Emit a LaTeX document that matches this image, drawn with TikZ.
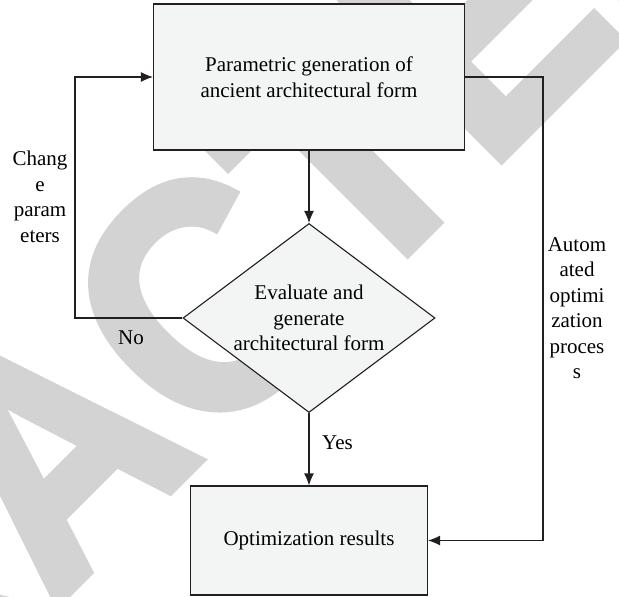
\documentclass[tikz,border=0pt]{standalone}
\usepackage{fontspec}
\setmainfont{Liberation Serif}
\newfontfamily\wmfont[FakeBold=3]{Liberation Sans Bold}
\usetikzlibrary{arrows.meta}
\usetikzlibrary{shapes.geometric}
\definecolor{boxfill}{RGB}{243,245,244}
\definecolor{wmgray}{RGB}{211,211,211}
\definecolor{inkline}{RGB}{35,31,32}

\begin{document}
\begin{tikzpicture}[x=1pt,y=-1pt,
        every node/.append style={font=\fontsize{21}{25.5}\selectfont},
        flow/.style={draw=inkline,line width=1.1pt,fill=boxfill,align=center,inner sep=0pt},
        arr/.style={draw=inkline,line width=1.1pt,-{Latex[length=12pt,width=10pt]}},
        lbl/.style={align=center,inner sep=0pt}]
    \useasboundingbox (0,0) rectangle (619,597);

    % Watermark
    \begin{scope}
        \clip (0,0) rectangle (619,597);
        \node [rotate=45,text=wmgray,inner sep=0pt,
            font=\wmfont\fontsize{325}{325}\selectfont] (wm) at (50,452)
            {\scalebox{0.92}[1]{RETRACTED}};
    \end{scope}

    % Blocks
    \node [flow,minimum width=311pt,minimum height=146pt] (gen) at (309,77)
        {Parametric generation of\\ancient architectural form};
    \node [flow,diamond,aspect=1.333,minimum width=252pt,minimum height=189pt] (eval) at (309,318)
        {Evaluate and\\generate\\architectural form};
    \node [flow,minimum width=237pt,minimum height=109pt] (res) at (309,540.5)
        {Optimization results};

    % Turning points
    \coordinate (backL) at (75,318);
    \coordinate (fwdR) at (543,77);

    % Arrows
    \draw [arr] (gen) -- (eval);
    \draw [arr] (eval) -- (res);
    \draw [arr] (eval.west) -- (backL) |- (gen.west);
    \draw [arr] (gen.east) -- (fwdR) |- (res.east);

    % Labels
    \node [lbl] (chg) at (40,197) {Chang\\e\\param\\eters};
    \node [lbl] (auto) at (577,308) {Autom\\ated\\optimi\\zation\\proces\\s};
    \node [lbl] (no) at (131,338) {No};
    \node [lbl,anchor=west] (yes) at (322,443) {Yes};
\end{tikzpicture}
\end{document}
